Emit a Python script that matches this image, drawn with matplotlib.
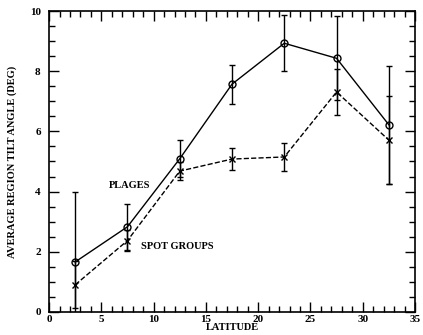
import numpy as np
import matplotlib
matplotlib.use("Agg")
import matplotlib.pyplot as plt
from matplotlib.ticker import MultipleLocator

matplotlib.rcParams['font.family'] = 'Liberation Serif'
matplotlib.rcParams['font.weight'] = 'bold'
matplotlib.rcParams['font.size'] = 7.5

# latitude bins (deg)
lat = [2.5, 7.5, 12.5, 17.5, 22.5, 27.5, 32.5]

# plages: mean tilt and error
plage_tilt = [1.66, 2.83, 5.09, 7.57, 8.93, 8.43, 6.22]
plage_err = [2.32, 0.76, 0.62, 0.65, 0.93, 1.40, 1.96]

# spot groups: mean tilt and error
spot_tilt = [0.90, 2.37, 4.68, 5.08, 5.15, 7.31, 5.71]
spot_err = [0.78, 0.35, 0.30, 0.38, 0.48, 0.77, 1.47]

fig = plt.figure(figsize=(4.23, 3.35), dpi=100)
ax = fig.add_axes([0.116, 0.069, 0.865, 0.898])

ax.errorbar(lat, plage_tilt, yerr=plage_err, fmt='-o', color='black',
            mfc='none', markersize=5, linewidth=1.0, elinewidth=1.0,
            capsize=2.5, capthick=1.0)
ax.errorbar(lat, spot_tilt, yerr=spot_err, fmt='--x', color='black',
            markersize=4, linewidth=1.0, elinewidth=1.0,
            capsize=2.5, capthick=1.0)

ax.text(7.74, 4.19, "PLAGES", ha='center', va='center', fontsize=7.5)
ax.text(12.3, 2.17, "SPOT GROUPS", ha='center', va='center', fontsize=7.5)

ax.set_xlim(0, 35)
ax.set_ylim(0, 10)
ax.xaxis.set_major_locator(MultipleLocator(5))
ax.xaxis.set_minor_locator(MultipleLocator(1))
ax.yaxis.set_major_locator(MultipleLocator(2))
ax.yaxis.set_minor_locator(MultipleLocator(0.5))
ax.tick_params(which='both', direction='in', top=True, right=True,
               width=1.0, labelsize=8, pad=2.5)
ax.tick_params(axis='y', pad=6)
ax.tick_params(which='major', length=7)
ax.tick_params(which='minor', length=4)
for s in ax.spines.values():
    s.set_linewidth(1.2)

ax.set_xlabel("LATITUDE", fontweight='bold', labelpad=-1)
ax.set_ylabel("AVERAGE REGION TILT ANGLE (DEG)", fontweight='bold', labelpad=9)

fig.savefig("out.png", dpi=100)
